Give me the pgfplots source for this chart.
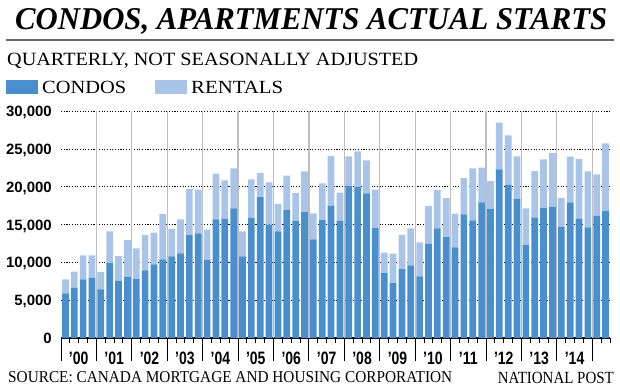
\documentclass[border=0pt]{standalone}
\usepackage{pgfplots}
\pgfplotsset{compat=1.18}
\usepackage{pgfplotstable}
\usepackage{graphicx}
\usepackage{fontspec}
\setmainfont{Liberation Serif}
\newfontfamily\lsans{Liberation Sans}
\definecolor{condo}{RGB}{74,143,205}
\definecolor{rental}{RGB}{168,197,233}
\definecolor{vgrid}{RGB}{190,190,190}
\newcommand\xl[1]{\scalebox{0.78}[1]{#1}}

\pgfplotstableread{
x condo rental
0 5900 1850
1 6650 2150
2 7750 3200
3 8000 2950
4 6450 2300
5 9900 4200
6 7600 3250
7 8100 4850
8 7800 4050
9 8950 4700
10 9750 4200
11 10400 6000
12 10800 3600
13 11200 4500
14 13600 6150
15 13850 5800
16 10350 4000
17 15700 6050
18 15750 5100
19 17150 5300
20 10800 3300
21 15900 5100
22 18650 3200
23 15000 5600
24 14100 3650
25 16950 4550
26 15500 3700
27 16650 5400
28 13050 3450
29 15600 4850
30 17500 6600
31 15500 3750
32 20100 3950
33 20000 4700
34 19150 4350
35 14550 5100
36 8600 2700
37 7250 3900
38 9100 4550
39 9600 4900
40 8150 4500
41 12500 5000
42 14500 5100
43 13350 5150
44 12000 4450
45 16350 4800
46 15550 6900
47 17950 4600
48 17050 3700
49 22300 6200
50 20300 6500
51 18450 5600
52 12350 4800
53 15950 6150
54 17200 6450
55 17400 7050
56 14700 3850
57 17950 6050
58 15750 7950
59 14650 7400
60 16200 5450
61 16800 8950
}\datatable

\begin{document}
\begin{tikzpicture}
\path[use as bounding box] (0,0) rectangle (620bp,-388bp);
% title
\node[anchor=base west, inner sep=0pt] at (15bp,-30bp)
  {\resizebox{592bp}{21bp}{\bfseries\itshape CONDOS, APARTMENTS ACTUAL STARTS}};
\draw[line width=2bp, color=black!60] (6bp,-40bp) -- (614bp,-40bp);
\node[anchor=base west, inner sep=0pt] at (7bp,-65.7bp)
  {\resizebox{411bp}{12.4bp}{QUARTERLY, NOT SEASONALLY ADJUSTED}};
% legend
\fill[condo] (6bp,-80bp) rectangle (38bp,-94bp);
\node[anchor=base west, inner sep=0pt] at (42bp,-93.3bp)
  {\resizebox{84bp}{12.3bp}{CONDOS}};
\fill[rental] (155bp,-80bp) rectangle (187bp,-94bp);
\node[anchor=base west, inner sep=0pt] at (191bp,-93.3bp)
  {\resizebox{92bp}{12.3bp}{RENTALS}};
% footer
\node[anchor=base west, inner sep=0pt] at (8bp,-382.7bp)
  {\resizebox{444bp}{11bp}{SOURCE: CANADA MORTGAGE AND HOUSING CORPORATION}};
\node[anchor=base east, inner sep=0pt] at (614bp,-383.3bp)
  {\resizebox{116bp}{11.3bp}{NATIONAL POST}};

\begin{axis}[
  at={(61bp,-338bp)}, anchor=south west,
  width=549bp, height=226.7bp, scale only axis,
  xmin=-0.5, xmax=61.5, ymin=0, ymax=30000,
  ybar stacked, bar width=6.7bp,
  axis lines*=left,
  axis line style={-},
  y axis line style={draw=none},
  x axis line style={black, line width=1.2bp},
  scaled y ticks=false,
  ytick={0,5000,10000,15000,20000,25000,30000},
  yticklabels={0,{5,000},{10,000},{15,000},{20,000},{25,000},{30,000}},
  ytick align=inside,
  ytick style={draw=none},
  yticklabel style={font=\lsans\bfseries\fontsize{15}{15}\selectfont, anchor=base east, inner sep=0pt, xshift=-9bp, yshift=-5.4bp},
  ymajorgrids,
  y grid style={black, line width=1.1bp, dash pattern=on 1.1bp off 1.6bp},
  xtick={-0.5,3.5,...,59.5},
  xticklabels={\xl{’00},\xl{’01},\xl{’02},\xl{’03},\xl{’04},\xl{’05},\xl{’06},\xl{’07},\xl{’08},\xl{’09},\xl{’10},\xl{’11},\xl{’12},\xl{’13},\xl{’14}},
  x tick label as interval,
  xtick align=outside,
  major tick length=23bp,
  minor tick length=5bp,
  minor xtick={0.5,1.5,...,61.5},
  xtick style={black, line width=1bp},
  xticklabel style={font=\lsans\bfseries\fontsize{18}{18}\selectfont, anchor=base, inner sep=0pt, yshift=-3bp},
  extra x ticks={3.5,7.5,...,59.5},
  extra x tick labels={},
  extra x tick style={grid=major, major tick length=0pt, major grid style={vgrid, line width=1.2bp}},
]
\addplot[fill=condo, draw=none] table[x=x, y=condo] {\datatable};
\addplot[fill=rental, draw=none] table[x=x, y=rental] {\datatable};
\end{axis}
\end{tikzpicture}
\end{document}
